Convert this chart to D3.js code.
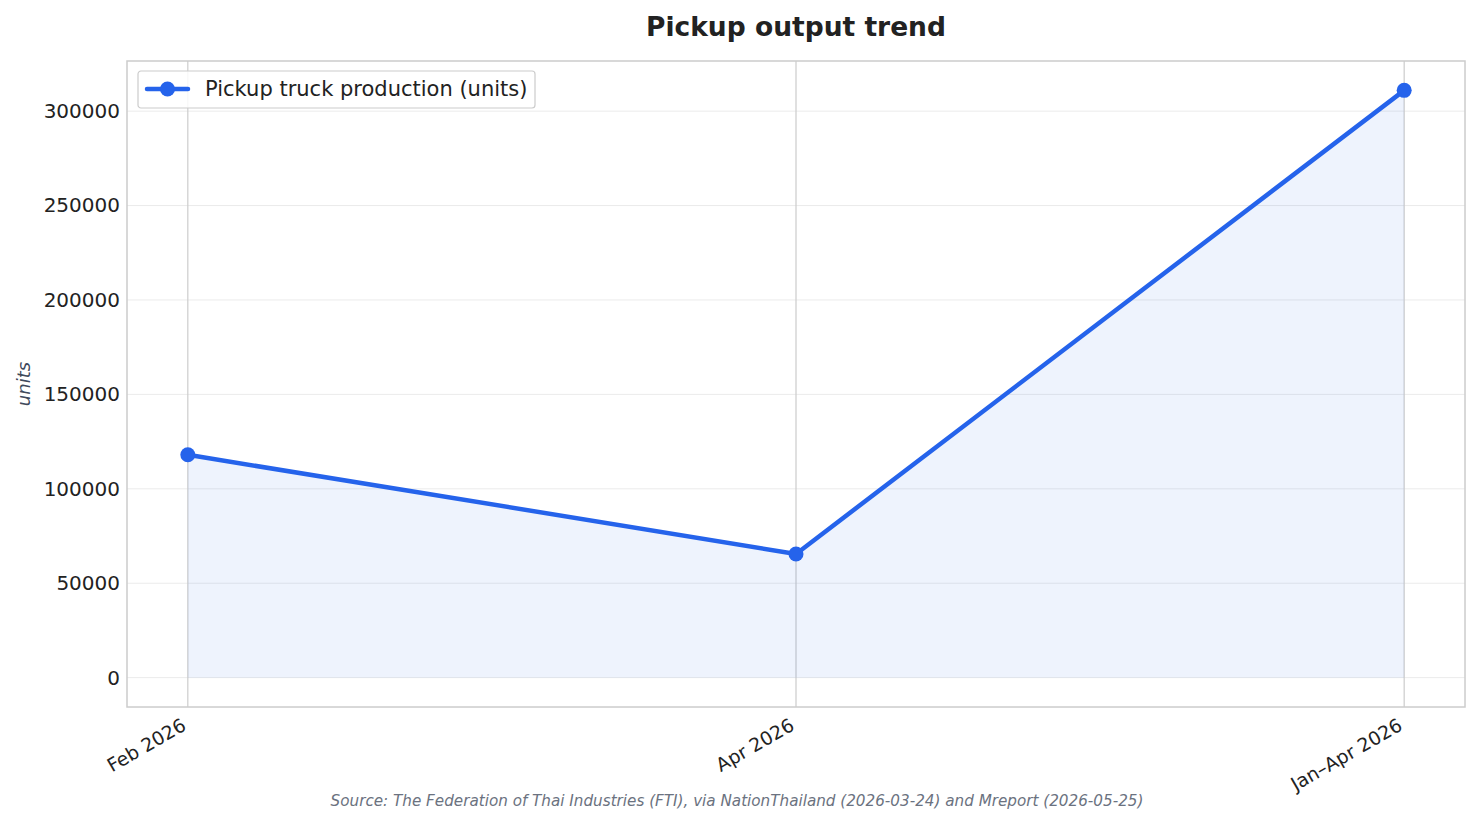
<!DOCTYPE html>
<html><head><meta charset="utf-8">
<script src="https://cdn.jsdelivr.net/npm/d3@7"></script>
<style>
html,body{margin:0;padding:0;background:#fff;}
svg{display:block;font-family:"DejaVu Sans",sans-serif;}
</style></head>
<body><svg id="chart" width="1479" height="824"></svg>
<script>
const categories = ["Feb 2026", "Apr 2026", "Jan\u2013Apr 2026"];
const productionValues = [118000, 65500, 311000];
const yTickValues = [0, 50000, 100000, 150000, 200000, 250000, 300000];
const seriesName = "Pickup truck production (units)";
const titleText = "Pickup output trend";
const yLabelText = "units";
const sourceText = "Source: The Federation of Thai Industries (FTI), via NationThailand (2026-03-24) and Mreport (2026-05-25)";

const W = 1479, H = 824;
const m = {left: 127, right: 1465, top: 61, bottom: 707};
const color = "#2563EB";
const svg = d3.select("#chart");

const x = d3.scaleLinear().domain([-0.1, 2.1]).range([m.left, m.right]);
const yMax = d3.max(productionValues);
const pad = yMax * 0.05;
const y = d3.scaleLinear().domain([-pad, yMax + pad]).range([m.bottom, m.top]);

// horizontal grid
svg.append("g").selectAll("line").data(yTickValues).join("line")
  .attr("x1", m.left).attr("x2", m.right)
  .attr("y1", d => y(d)).attr("y2", d => y(d))
  .attr("stroke", "#ebebeb").attr("stroke-width", 1);
// vertical grid
svg.append("g").selectAll("line").data(categories).join("line")
  .attr("x1", (d,i) => x(i)).attr("x2", (d,i) => x(i))
  .attr("y1", m.top).attr("y2", m.bottom)
  .attr("stroke", "#cccccc").attr("stroke-width", 1.2);

// area
const idx = productionValues.map((v,i) => ({i, v}));
svg.append("path").datum(idx)
  .attr("d", d3.area().x(d => x(d.i)).y0(y(0)).y1(d => y(d.v)))
  .attr("fill", color).attr("fill-opacity", 0.08);

// line
svg.append("path").datum(idx)
  .attr("d", d3.line().x(d => x(d.i)).y(d => y(d.v)))
  .attr("fill", "none").attr("stroke", color).attr("stroke-width", 4.5)
  .attr("stroke-linejoin", "round").attr("stroke-linecap", "round");
svg.append("g").selectAll("circle").data(idx).join("circle")
  .attr("cx", d => x(d.i)).attr("cy", d => y(d.v)).attr("r", 7.5)
  .attr("fill", color);

// frame
svg.append("rect").attr("x", m.left).attr("y", m.top)
  .attr("width", m.right - m.left).attr("height", m.bottom - m.top)
  .attr("fill", "none").attr("stroke", "#cccccc").attr("stroke-width", 1.5);

// y axis
const yAxis = d3.axisLeft(y).tickValues(yTickValues).tickSize(0).tickPadding(7).tickFormat(d3.format("d"));
const gy = svg.append("g").attr("transform", `translate(${m.left},0)`).call(yAxis);
gy.select(".domain").remove();
gy.selectAll("text").attr("font-size", 20).attr("fill", "#222").attr("font-family", "DejaVu Sans");

// x axis
const xAxis = d3.axisBottom(x).tickValues(d3.range(categories.length)).tickSize(0).tickFormat(i => categories[i]);
const gx = svg.append("g").attr("transform", `translate(0,${m.bottom})`).call(xAxis);
gx.select(".domain").remove();
gx.selectAll("text").attr("font-size", 18.8).attr("fill", "#222").attr("font-family", "DejaVu Sans")
  .attr("text-anchor", "end").attr("dy", null).attr("y", 0)
  .attr("transform", "translate(-1,22) rotate(-30)");

// title
svg.append("text").attr("x", (m.left + m.right) / 2).attr("y", 36)
  .attr("text-anchor", "middle").attr("font-size", 26.5).attr("font-weight", "bold")
  .attr("fill", "#222").text(titleText);

// y label
svg.append("text").attr("transform", `translate(30,${(m.top + m.bottom)/2}) rotate(-90)`)
  .attr("text-anchor", "middle").attr("font-size", 18).attr("font-style", "italic")
  .attr("fill", "#3f4a5c").text(yLabelText);

// source
svg.append("text").attr("x", 737).attr("y", 806).attr("text-anchor", "middle")
  .attr("font-size", 15.2).attr("font-style", "italic").attr("fill", "#6b7280").text(sourceText);

// legend
const lg = svg.append("g").attr("transform", "translate(138,71)");
lg.append("rect").attr("width", 397).attr("height", 37).attr("rx", 3)
  .attr("fill", "#fff").attr("fill-opacity", 0.85).attr("stroke", "#cccccc").attr("stroke-width", 1.2);
lg.append("line").attr("x1", 9).attr("x2", 50).attr("y1", 18).attr("y2", 18)
  .attr("stroke", color).attr("stroke-width", 4.5).attr("stroke-linecap", "round");
lg.append("circle").attr("cx", 29.5).attr("cy", 18).attr("r", 7.5).attr("fill", color);
lg.append("text").attr("x", 67).attr("y", 25).attr("font-size", 21).attr("fill", "#222").text(seriesName);
</script></body></html>
